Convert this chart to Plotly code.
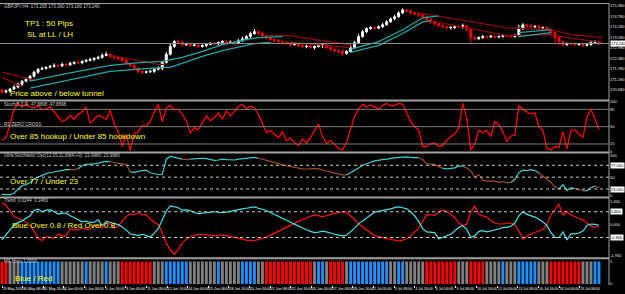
import plotly.graph_objects as go

# ---------------- DATA ----------------
closes = [
    170.47, 170.52, 170.64, 170.75, 170.92, 171.09, 171.20, 171.37, 171.60, 171.77,
    171.82, 171.88, 171.94, 171.99, 171.96, 172.05, 172.02, 172.11, 172.16, 172.14,
    172.22, 172.28, 172.33, 172.39, 172.45, 172.56, 172.62, 172.50, 172.45, 172.39,
    172.28, 172.11, 171.99, 171.82, 171.65, 171.60, 171.62, 171.65, 171.77, 171.82,
    172.16, 172.62, 173.07, 173.35, 173.33, 173.18, 173.20, 173.13, 173.15, 173.07,
    173.13, 173.18, 173.24, 173.22, 173.30, 173.35, 173.30, 173.32, 173.24, 173.41,
    173.52, 173.64, 173.81, 173.92, 173.81, 173.69, 173.58, 173.47, 173.41, 173.35,
    173.30, 173.24, 173.18, 173.20, 173.13, 173.07, 173.09, 173.01, 173.07, 173.13,
    173.18, 173.01, 172.90, 172.84, 172.79, 172.67, 172.79, 173.01, 173.30, 173.64,
    173.92, 174.09, 174.14, 174.12, 174.20, 174.31, 174.48, 174.65, 174.77, 174.99,
    175.16, 175.11, 174.99, 174.94, 174.88, 174.77, 174.60, 174.48, 174.37, 174.26,
    174.20, 174.14, 174.16, 174.20, 174.18, 174.26, 174.03, 173.58, 173.52, 173.58,
    173.64, 173.62, 173.66, 173.62, 173.64, 173.69, 173.67, 173.64, 173.69, 174.09,
    174.31, 174.26, 174.20, 174.22, 174.14, 174.16, 174.03, 173.86, 173.58, 173.35,
    173.18, 173.24, 173.22, 173.18, 173.20, 173.13, 173.18, 173.30, 173.35, 173.24,
]
first_open = 170.58
wick_up = [
    0.08, 0.10, 0.06, 0.12, 0.09, 0.05, 0.11, 0.07, 0.10, 0.06,
    0.09, 0.05, 0.08, 0.12, 0.06, 0.10, 0.07, 0.09, 0.05, 0.11,
    0.06, 0.08, 0.10, 0.07, 0.09, 0.12, 0.15, 0.06, 0.08, 0.05,
    0.07, 0.09, 0.06, 0.10, 0.08, 0.05, 0.07, 0.09, 0.06, 0.11,
    0.08, 0.14, 0.18, 0.10, 0.12, 0.07, 0.09, 0.06, 0.08, 0.10,
    0.07, 0.05, 0.09, 0.11, 0.06, 0.08, 0.07, 0.10, 0.05, 0.09,
    0.12, 0.08, 0.10, 0.15, 0.07, 0.09, 0.06, 0.08, 0.05, 0.10,
    0.07, 0.09, 0.06, 0.08, 0.10, 0.05, 0.07, 0.09, 0.06, 0.12,
    0.08, 0.06, 0.09, 0.07, 0.05, 0.10, 0.08, 0.12, 0.09, 0.14,
    0.10, 0.07, 0.09, 0.06, 0.08, 0.11, 0.10, 0.08, 0.12, 0.09,
    0.10, 0.07, 0.06, 0.09, 0.05, 0.08, 0.07, 0.10, 0.06, 0.09,
    0.08, 0.05, 0.07, 0.10, 0.09, 0.12, 0.06, 0.08, 0.05, 0.07,
    0.09, 0.06, 0.08, 0.05, 0.07, 0.10, 0.06, 0.08, 0.09, 0.22,
    0.10, 0.07, 0.09, 0.06, 0.08, 0.05, 0.07, 0.09, 0.06, 0.08,
    0.05, 0.07, 0.06, 0.09, 0.05, 0.08, 0.06, 0.12, 0.07, 0.05,
]
wick_dn = [
    0.10, 0.07, 0.09, 0.05, 0.08, 0.11, 0.06, 0.09, 0.07, 0.10,
    0.05, 0.08, 0.06, 0.09, 0.07, 0.05, 0.10, 0.06, 0.08, 0.07,
    0.09, 0.05, 0.07, 0.10, 0.06, 0.08, 0.05, 0.09, 0.07, 0.10,
    0.12, 0.08, 0.10, 0.07, 0.09, 0.12, 0.08, 0.06, 0.09, 0.07,
    0.10, 0.08, 0.06, 0.09, 0.07, 0.11, 0.08, 0.10, 0.06, 0.09,
    0.07, 0.10, 0.05, 0.08, 0.09, 0.06, 0.10, 0.07, 0.12, 0.05,
    0.08, 0.06, 0.09, 0.07, 0.10, 0.08, 0.11, 0.06, 0.09, 0.07,
    0.10, 0.08, 0.12, 0.06, 0.09, 0.07, 0.10, 0.08, 0.11, 0.06,
    0.14, 0.09, 0.07, 0.10, 0.08, 0.16, 0.07, 0.06, 0.08, 0.05,
    0.07, 0.09, 0.06, 0.08, 0.05, 0.07, 0.06, 0.05, 0.08, 0.06,
    0.07, 0.09, 0.10, 0.08, 0.11, 0.09, 0.07, 0.10, 0.12, 0.08,
    0.09, 0.07, 0.10, 0.08, 0.06, 0.09, 0.08, 0.30, 0.12, 0.09,
    0.08, 0.10, 0.07, 0.09, 0.08, 0.06, 0.10, 0.08, 0.07, 0.06,
    0.08, 0.10, 0.07, 0.09, 0.08, 0.10, 0.09, 0.14, 0.30, 0.20,
    0.12, 0.09, 0.10, 0.08, 0.07, 0.09, 0.06, 0.08, 0.07, 0.10,
]

# tunnel lines (bar index, price); None = gap
tunnel_cyan_hi_x = [7, 15, 27, 35, 40, 45, 50, 55, 61, 64, 70, None, 87, 94, 100, 105, 109, None, 129, 137]
tunnel_cyan_hi_y = [171.09, 171.48, 171.99, 172.16, 172.22, 172.45, 172.79, 173.18, 173.47, 173.58, 173.64, None,
                    172.90, 173.35, 174.03, 174.71, 174.82, None, 173.86, 174.03]
tunnel_cyan_lo_x = [7, 17, 27, 40, 42, 50, 55, 63, 67, None, 87, 94, 100, 105, 107, None, 129, 137]
tunnel_cyan_lo_y = [170.69, 171.15, 171.65, 171.88, 171.88, 172.50, 172.84, 173.24, 173.30, None,
                    172.73, 173.13, 173.81, 174.48, 174.54, None, 173.64, 173.86]
tunnel_red_hi_x = [0, 8, None, 27, 39, 41, None, 66, 72, 78, 87, None, 104, 109, 116, 126, 137, 142, 150]
tunnel_red_hi_y = [171.60, 171.15, None, 172.56, 172.05, 172.05, None, 173.69, 173.69, 173.47, 173.18, None,
                   174.99, 174.82, 174.54, 174.14, 174.03, 173.75, 173.58]
tunnel_red_lo_x = [0, 5, None, 70, 87, None, 107, 113, 126, 137, 141, 150]
tunnel_red_lo_y = [171.32, 170.75, None, 173.35, 173.01, None, 174.54, 174.26, 173.69, 173.75, 173.58, 173.30]

stoch = [
    23, 28, 55, 85, 97, 90, 96, 90, 88, 93,
    84, 86, 90, 80, 68, 60, 64, 73, 65, 75,
    80, 90, 57, 65, 73, 70, 65, 83, 55, 40,
    10, 35, 2, 36, 40, 52, 51, 60, 80, 95,
    60, 88, 93, 84, 86, 75, 62, 37, 48, 44,
    58, 72, 62, 68, 78, 65, 82, 72, 80, 91,
    95, 86, 92, 88, 75, 55, 38, 42, 35, 27,
    40, 22, 27, 18, 12, 25, 17, 28, 42, 55,
    30, 17, 22, 14, 6, 3, 18, 45, 70, 86,
    95, 90, 94, 90, 86, 93, 97, 92, 93, 97,
    95, 78, 60, 50, 43, 10, 10, 16, 17, 10,
    12, 22, 30, 35, 47, 97, 68, 3, 15, 43,
    38, 42, 30, 60, 55, 40, 20, 31, 33, 92,
    85, 80, 76, 78, 50, 43, 6, 3, 10, 8,
    40, 5, 43, 43, 35, 28, 70, 86, 65, 44,
]

ultra = [
    11, 10, 10, 14, 22, 31, 33, 38, 46, 50,
    55, 58, 60, 62, 64, 65, 67, 67, 67, 69,
    76, 79, 79, 80, 82, 84, 86, 85, 83, 82,
    80, 79, 62, 61, 63, 65, 66, 60, 58, 56,
    56, 91, 97, 95, 93, 91, 90, 91, 92, 93,
    93, 92, 90, 88, 89, 91, 90, 90, 89, 91,
    92, 93, 94, 95, 93, 91, 89, 86, 83, 80,
    78, 76, 74, 72, 70, 69, 68, 69, 70, 69,
    66, 64, 62, 59, 57, 55, 55, 60, 65, 71,
    77, 81, 84, 87, 89, 90, 91, 93, 94, 95,
    96, 96, 95, 95, 94, 90, 80, 79, 79, 74,
    70, 69, 70, 71, 75, 75, 71, 64, 50, 56,
    42, 41, 41, 41, 38, 40, 37, 38, 45, 60,
    66, 65, 67, 65, 60, 53, 46, 38, 28, 23,
    33, 20, 26, 24, 21, 19, 19, 26, 30, 26,
]
ultra_state = (
    "CCCCCCCCCC" "CCCCCCCCNN" "CCCCCCCCNN" "NNNCCCCCCC" "CCCCCCNNCC"
    "CCCCCCCCCC" "CCCCCNNNNN" "NNNNNNNNNN" "NNNNNNNCCC" "CCCCCCCCCC"
    "CCCCCNNNNN" "NCCCCCNNNN" "NNNNNNNNCC" "CCCCCNNNNN" "CCCCNNCCCN"
)

trend_blue = [
    -0.95, -0.65, -0.37, -0.02, 0.14, 0.22, 0.40, 0.55, 0.88, 0.96,
    0.80, 0.90, 0.92, 0.82, 0.66, 0.72, 0.72, 0.55, 0.44, 0.30,
    0.17, 0.22, 0.12, 0.15, 0.30, -0.06, 0.20, 0.15, 0.06, 0.00,
    -0.14, -0.33, -0.58, -0.62, -0.67, -0.60, -0.68, -0.78, -0.53, -0.25,
    0.30, 0.85, 1.17, 1.12, 1.05, 0.90, 0.92, 0.88, 0.74, 0.68,
    0.70, 0.72, 0.78, 0.80, 0.77, 0.75, 0.78, 0.84, 0.88, 0.93,
    0.98, 1.02, 1.06, 1.10, 1.02, 0.94, 0.88, 0.75, 0.62, 0.50,
    0.38, 0.28, 0.15, 0.03, -0.10, -0.22, -0.32, -0.42, -0.50, -0.46,
    -0.40, -0.45, -0.54, -0.60, -0.65, -0.70, -0.66, -0.45, -0.22, 0.05,
    0.25, 0.42, 0.60, 0.78, 0.82, 0.86, 0.90, 0.98, 1.06, 1.10,
    1.05, 0.98, 0.80, 0.55, 0.20, -0.25, -0.45, -0.47, -0.50, -0.88,
    -0.80, -0.72, -0.60, -0.40, -0.17, -0.06, -0.30, -0.80, -0.70, -0.42,
    -0.37, -0.45, -0.40, -0.33, -0.27, -0.17, -0.17, -0.10, 0.10, 0.55,
    0.80, 0.64, 0.55, 0.47, 0.33, 0.17, -0.05, -0.50, -0.80, -0.80,
    -0.45, -0.95, -0.57, -0.57, -0.52, -0.40, -0.05, 0.04, 0.02, -0.04,
]
trend_red = [
    1.35, 1.20, 0.86, 0.50, 0.40, 0.28, 0.17, -0.05, -0.40, -0.88,
    -0.98, -0.75, -0.78, -0.85, -0.58, -0.70, -0.70, -0.27, -0.33, -0.33,
    -0.20, -0.28, -0.30, -0.05, -0.10, -0.20, 0.10, 0.04, -0.22, -0.10,
    0.20, 0.50, 0.66, 0.60, 0.74, 0.60, 0.62, 0.35, 0.15, 0.00,
    -0.50, -1.15, -1.55, -1.85, -1.55, -1.15, -0.90, -0.75, -0.68, -0.60,
    -0.60, -0.62, -0.68, -0.70, -0.66, -0.64, -0.68, -0.74, -0.80, -0.86,
    -0.92, -0.96, -0.98, -1.00, -0.92, -0.85, -0.78, -0.65, -0.52, -0.40,
    -0.28, -0.18, -0.05, 0.08, 0.20, 0.32, 0.42, 0.52, 0.60, 0.56,
    0.50, 0.55, 0.64, 0.70, 0.75, 0.80, 0.76, 0.55, 0.32, 0.05,
    -0.15, -0.32, -0.50, -0.68, -0.74, -0.78, -0.82, -0.90, -0.98, -1.02,
    -0.96, -0.88, -0.70, -0.45, -0.22, 0.20, 0.62, 0.60, 0.58, 0.76,
    0.92, 0.82, 0.66, 0.45, 0.10, -0.04, 0.02, 0.80, 1.15, 0.66,
    0.55, 0.47, 0.25, 0.10, 0.04, 0.04, 0.10, 0.10, 0.00, -0.40,
    -0.90, -0.74, -0.57, -0.49, -0.41, -0.30, 0.00, 0.60, 0.95, 1.25,
    0.60, 0.80, 0.60, 0.48, 0.38, 0.30, 0.08, -0.08, -0.17, -0.10,
]

hist_state = (
    "RRGGGBBBBB" "BBBBBGGGGG" "GBGGGGBGGG" "RRRRRRRRGG" "GBBBBBBGGG"
    "GGGGBGGGGG" "BBBBGGRRRR" "RRRRRRRRGB" "BGRRRRGBBB" "BBBBBBBGGB"
    "BGGGGGRRRR" "RRRRGGGRRR" "RGGGGBGGGB" "BBBBGGGRRR" "RRRRRGGGBB"
)

date_labels = [
    "29 May 2018", "30 May 08:00", "31 May 16:00", "4 Jun 00:00", "5 Jun 08:00",
    "6 Jun 16:00", "8 Jun 00:00", "11 Jun 08:00", "12 Jun 16:00", "14 Jun 00:00",
    "15 Jun 08:00", "18 Jun 16:00", "20 Jun 00:00", "21 Jun 08:00", "22 Jun 16:00",
    "26 Jun 00:00", "27 Jun 08:00", "28 Jun 16:00", "2 Jul 00:00", "3 Jul 08:00",
    "4 Jul 16:00", "6 Jul 00:00", "9 Jul 08:00", "10 Jul 16:00", "12 Jul 00:00",
    "13 Jul 08:00", "16 Jul 16:00", "18 Jul 00:00", "19 Jul 08:00",
]

price_ticks = [175.38, 174.78, 174.18, 173.58, 172.98, 172.38, 171.78, 171.18, 170.58]
price_tick_text = ["175.380", "174.780", "174.180", "173.580", "172.980",
                   "172.380", "171.780", "171.180", "170.580"]
last_price = 173.24

# ---------------- FIGURE ----------------
N = len(closes)
xs = list(range(N))
opens = [first_open] + closes[:-1]
highs = [max(o, c) + w for o, c, w in zip(opens, closes, wick_up)]
lows = [min(o, c) - w for o, c, w in zip(opens, closes, wick_dn)]

PW, PH = 611.0, 285.0


def fy(ypx):
    return 1 - ypx / PH


def fx(xpx):
    return xpx / PW


fig = go.Figure()

TEAL = "#1fa6a6"
DRED = "#8c0a0a"
for tx, ty, col in [(tunnel_red_hi_x, tunnel_red_hi_y, DRED), (tunnel_red_lo_x, tunnel_red_lo_y, DRED),
                    (tunnel_cyan_hi_x, tunnel_cyan_hi_y, TEAL), (tunnel_cyan_lo_x, tunnel_cyan_lo_y, TEAL)]:
    fig.add_trace(go.Scatter(x=tx, y=ty, mode="lines", line=dict(color=col, width=1.3),
                             connectgaps=False, xaxis="x", yaxis="y", hoverinfo="skip"))

fig.add_trace(go.Candlestick(
    x=xs, open=opens, high=highs, low=lows, close=closes, xaxis="x", yaxis="y",
    increasing=dict(line=dict(color="#ffffff", width=1), fillcolor="#ffffff"),
    decreasing=dict(line=dict(color="#ff0000", width=1), fillcolor="#ff0000"),
    whiskerwidth=0, hoverinfo="skip"))

fig.add_trace(go.Scatter(x=xs, y=stoch, mode="lines", line=dict(color="#ff0000", width=1.3),
                         xaxis="x", yaxis="y2", hoverinfo="skip"))

u_c = [None] * N
u_b = [None] * N
for i in range(N - 1):
    tgt = u_c if ultra_state[i + 1] == "C" else u_b
    tgt[i] = ultra[i]
    tgt[i + 1] = ultra[i + 1]
fig.add_trace(go.Scatter(x=xs, y=u_b, mode="lines", line=dict(color="#a84a28", width=1.2),
                         connectgaps=False, xaxis="x", yaxis="y3", hoverinfo="skip"))
fig.add_trace(go.Scatter(x=xs, y=u_c, mode="lines", line=dict(color="#34cfc8", width=1.2),
                         connectgaps=False, xaxis="x", yaxis="y3", hoverinfo="skip"))

fig.add_trace(go.Scatter(x=xs, y=trend_red, mode="lines", line=dict(color="#ff1010", width=1.2),
                         xaxis="x", yaxis="y4", hoverinfo="skip"))
fig.add_trace(go.Scatter(x=xs, y=trend_blue, mode="lines", line=dict(color="#3fe3e8", width=1.2),
                         xaxis="x", yaxis="y4", hoverinfo="skip"))

cmap = {"R": "#ff0000", "B": "#1e90ff", "G": "#808080"}
hist_values = [1.0 for _ in hist_state]
fig.add_trace(go.Bar(x=xs, y=hist_values, marker=dict(color=[cmap[s] for s in hist_state], line=dict(width=0)),
                     xaxis="x", yaxis="y5", hoverinfo="skip"))

tickfont = dict(size=4, color="#e8e8e8", family="Liberation Sans, Arial, sans-serif")
axcommon = dict(showgrid=False, zeroline=False, showline=False, side="right", ticks="",
                tickfont=tickfont, anchor="x", fixedrange=True)

fig.update_layout(
    width=625, height=294,
    margin=dict(l=0, r=14, t=0, b=9),
    paper_bgcolor="#000000", plot_bgcolor="#000000",
    showlegend=False, bargap=0.28,
    xaxis=dict(domain=[0, 1], range=[-0.5, 151.5], anchor="y5", showgrid=False, zeroline=False,
               rangeslider=dict(visible=False),
               tickvals=[k * 5.15 for k in range(len(date_labels))], ticktext=date_labels,
               tickangle=0, ticks="outside", ticklen=2, tickcolor="#ffffff",
               tickfont=dict(size=3.6, color="#ffffff", family="Liberation Sans, Arial, sans-serif"),
               ticklabelposition="outside right", showline=False, fixedrange=True),
    yaxis=dict(domain=[fy(97), fy(1)], range=[170.07, 175.50],
               tickvals=price_ticks, ticktext=price_tick_text, **axcommon),
    yaxis2=dict(domain=[fy(150), fy(100)], range=[0, 100],
                tickvals=[100, 85, 50, 15, 0], ticktext=["100", "85", "50", "15", "0"], **axcommon),
    yaxis3=dict(domain=[fy(196), fy(152)], range=[4.96, 104.05],
                tickvals=[100, 50, 8], ticktext=["100", "50", "0"], **axcommon),
    yaxis4=dict(domain=[fy(257), fy(197)], range=[-2.03, 1.66],
                tickvals=[1.45, 0.0, -1.95], ticktext=["1.450", "0.000", "-1.950"], **axcommon),
    yaxis5=dict(domain=[0, fy(259)], range=[-0.05, 1.1],
                tickvals=[1, 0], ticktext=["1", "0"], **axcommon),
)

shapes = []
for v in [85, 50, 15]:
    shapes.append(dict(type="line", xref="paper", yref="y2", x0=0, x1=1, y0=v, y1=v,
                       line=dict(color="#7a7a7a", width=1)))
for v in [77, 50, 23]:
    shapes.append(dict(type="line", xref="paper", yref="y3", x0=0, x1=1, y0=v, y1=v,
                       line=dict(color="#c8c8c8", width=1, dash="dot")))
for v in [0.8, -0.8]:
    shapes.append(dict(type="line", xref="paper", yref="y4", x0=0, x1=1, y0=v, y1=v,
                       line=dict(color="#c8c8c8", width=1, dash="dot")))
shapes.append(dict(type="line", xref="paper", yref="y", x0=0, x1=1, y0=last_price, y1=last_price,
                   line=dict(color="#8a8a8a", width=1)))
for ypx in [98.5, 151, 196.5, 258]:
    shapes.append(dict(type="line", xref="paper", yref="paper", x0=0, x1=1, y0=fy(ypx), y1=fy(ypx),
                       line=dict(color="#a0a0a0", width=2)))
shapes.append(dict(type="line", xref="paper", yref="paper", x0=0, x1=1, y0=fy(0.5), y1=fy(0.5),
                   line=dict(color="#a0a0a0", width=1)))
shapes.append(dict(type="line", xref="paper", yref="paper", x0=1, x1=1, y0=0, y1=1,
                   line=dict(color="#a0a0a0", width=1)))
fig.update_layout(shapes=shapes)

ann = []
YEL = dict(color="#ffff00", size=8, family="Liberation Sans, Arial, sans-serif")
for txt, xpx, ypx in [("TP1 : 50 Pips", 23, 21), ("SL at LL / LH", 25, 31.5),
                      ("Price above / below tunnel", 8, 91.5),
                      ("Over 85 hookup / Under 85 hookdown", 8, 135),
                      ("Over 77 / Under 23", 8, 180.5),
                      ("Blue Over 0.8 / Red Over 0.8", 10, 224.5),
                      ("Blue / Red", 13, 278)]:
    ann.append(dict(text=txt, x=fx(xpx), y=fy(ypx), xref="paper", yref="paper",
                    xanchor="left", yanchor="middle", showarrow=False, font=YEL))

SMALL = dict(color="#c8c8c8", size=4.5, family="Liberation Sans, Arial, sans-serif")
for txt, xpx, ypx in [("GBPJPY,H4  173.295 173.360 173.180 173.240", 2, 4),
                      ("Stoch(5,3,3)  47.8898  47.8898", 2, 102.5),
                      ("RS ZERO CROSS", 2, 122.5),
                      ("Ultra Stochastic Osc(12,15,11,SMA,+3)  23.9980  23.9980", 2, 154),
                      ("Trend  0.0244  0.3460", 2, 199.5),
                      ("MA Histo 1.0000", 2, 261)]:
    ann.append(dict(text=txt, x=fx(xpx), y=fy(ypx), xref="paper", yref="paper",
                    xanchor="left", yanchor="middle", showarrow=False, font=SMALL))

BOX = dict(color="#000000", size=4, family="Liberation Sans, Arial, sans-serif")
for txt, yref, v in [("173.240", "y", last_price), ("77.000", "y3", 77), ("23.000", "y3", 23),
                     ("0.800", "y4", 0.8), ("-0.800", "y4", -0.8)]:
    ann.append(dict(text=txt, x=1, y=v, xref="paper", yref=yref, xanchor="left", yanchor="middle",
                    xshift=1, showarrow=False, font=BOX, bgcolor="#ffffff", borderpad=0))
fig.update_layout(annotations=ann)

fig.write_html("out.html")
